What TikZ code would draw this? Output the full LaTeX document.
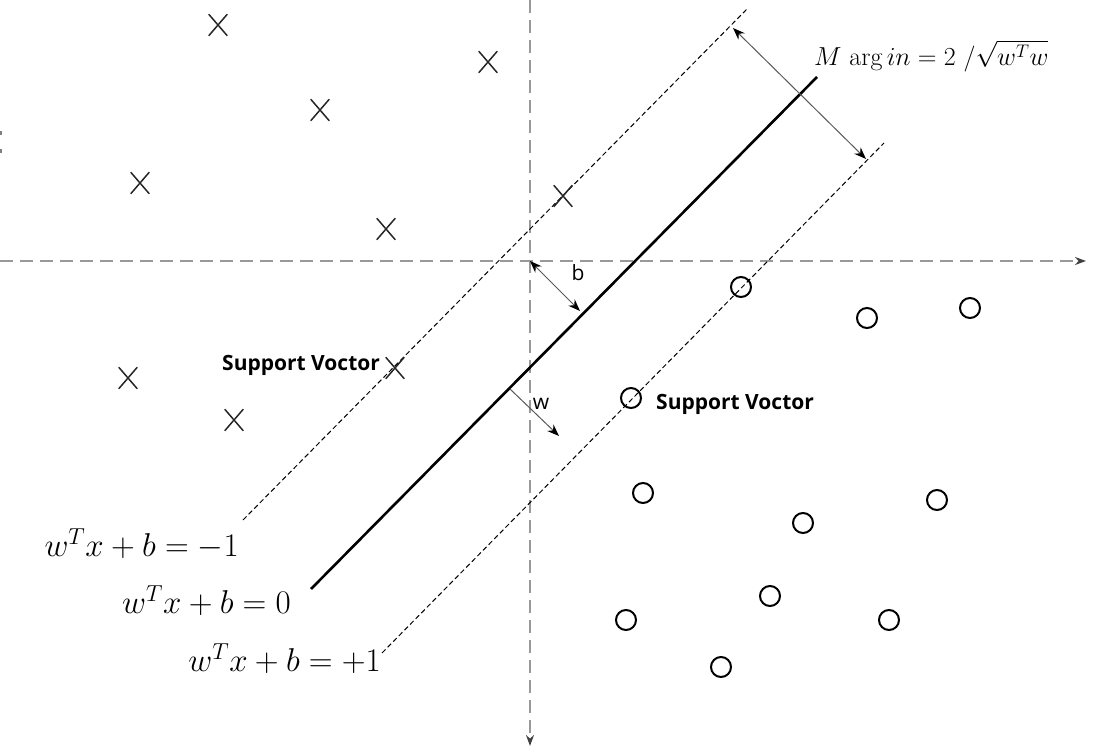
\documentclass[tikz,border=0pt]{standalone}
\usepackage{fix-cm}
\usepackage{fontspec}
\setsansfont{Open Sans}
\usetikzlibrary{arrows.meta,shapes.misc}
\begin{document}
\begin{tikzpicture}[x=1pt,y=-1pt,
  axisline/.style={draw=gray!80, line width=1.6pt, dash pattern=on 13pt off 7pt, -{Stealth[length=11pt,width=8pt,color=black!75]}},
  marginline/.style={draw=black, line width=1pt, dash pattern=on 5pt off 3pt},
  hyper/.style={draw=black, line width=2.6pt},
  dimarrow/.style={draw=black!65, line width=1pt, {Stealth[length=12pt,width=9pt,color=black]}-{Stealth[length=12pt,width=9pt,color=black]}},
  onearrow/.style={draw=black!65, line width=1pt, -{Stealth[length=12pt,width=9pt,color=black]}},
  xpt/.style={cross out, draw=black!85, line width=1.5pt, minimum width=17pt, minimum height=20pt, inner sep=0pt},
  opt/.style={circle, draw=black, line width=2pt, minimum size=20pt, inner sep=0pt},
  svlabel/.style={font=\sffamily\bfseries\fontsize{21}{24}\selectfont, inner sep=0pt},
  eqlabel/.style={font=\fontsize{33}{38}\selectfont, inner sep=0pt},
  smalllabel/.style={font=\sffamily\fontsize{21}{24}\selectfont, inner sep=0pt}
]
\useasboundingbox (0,0) rectangle (1111,754);
% tiny marks at left edge
\fill[black!50] (0,131) rectangle (2,135);
\fill[black!50] (0,149) rectangle (2,153);
% axes
\coordinate (O) at (530,261);
\coordinate (xl) at (0,261);
\coordinate (xr) at (1086,261);
\coordinate (yt) at (530,0);
\coordinate (yb) at (530,746);
\draw[axisline] (xl) -- (xr);
\draw[axisline] (yt) -- (yb);
% hyperplanes
\coordinate (m1a) at (243,520);
\coordinate (m1b) at (748,8);
\coordinate (h0a) at (311,589);
\coordinate (h0b) at (817,77);
\coordinate (p1a) at (382,653);
\coordinate (p1b) at (884,143);
\draw[marginline] (m1a) -- (m1b);
\draw[hyper] (h0a) -- (h0b);
\draw[marginline] (p1a) -- (p1b);
% margin arrow
\coordinate (ma) at (733,28);
\coordinate (mb) at (866,159);
\draw[dimarrow] (ma) -- (mb);
% b arrow
\coordinate (bb) at (580,311);
\draw[dimarrow] (O) -- (bb);
\node[smalllabel] (blab) at (578,273) {b};
% w arrow
\coordinate (wa) at (510,389);
\coordinate (wb) at (559,436);
\draw[onearrow] (wa) -- (wb);
\node[smalllabel] (wlab) at (541,404) {w};
% crosses
\node[xpt] (x1) at (218,25) {};
\node[xpt] (x2) at (488,62) {};
\node[xpt] (x3) at (320,110) {};
\node[xpt] (x4) at (140,183) {};
\node[xpt] (x5) at (386,229) {};
\node[xpt] (x6) at (563,196) {};
\node[xpt] (x7) at (128,378) {};
\node[xpt] (x8) at (395,368) {};
\node[xpt] (x9) at (234,420) {};
% circles
\node[opt] (o1) at (741,287) {};
\node[opt] (o2) at (867,318) {};
\node[opt] (o3) at (970,308) {};
\node[opt] (o4) at (631,398) {};
\node[opt] (o5) at (643,493) {};
\node[opt] (o6) at (803,523) {};
\node[opt] (o7) at (937,500) {};
\node[opt] (o8) at (770,596) {};
\node[opt] (o9) at (626,620) {};
\node[opt] (o10) at (889,620) {};
\node[opt] (o11) at (721,667) {};
% support vector labels
\node[svlabel, anchor=west] (sv1) at (222,365) {Support Voctor};
\node[svlabel, anchor=west] (sv2) at (656,404) {Support Voctor};
% equation labels
\node[eqlabel, anchor=east] (lm1) at (239,544) {$w^T x + b = -1$};
\node[eqlabel, anchor=east] (l0) at (291,601) {$w^T x + b = 0$};
\node[eqlabel, anchor=east] (lp1) at (381,659) {$w^T x + b = +1$};
\node[font=\fontsize{26}{30}\selectfont, inner sep=0pt, anchor=west] (mlab) at (814,56) {$M\ \mathrm{arg}\, in = 2\ /\sqrt{w^T w}$};
\end{tikzpicture}
\end{document}
